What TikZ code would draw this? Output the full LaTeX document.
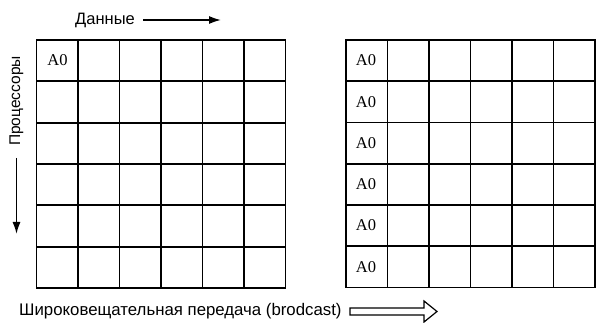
\documentclass[tikz,border=0pt]{standalone}
\usepackage{fontspec}
\setmainfont{Liberation Sans}
\newfontfamily\serifA{Liberation Serif}
\usetikzlibrary{arrows.meta}
\begin{document}
\begin{tikzpicture}[x=1pt,y=-1pt,
  gridline/.style={line width=1.8pt,line cap=rect},
  lbl/.style={font=\fontsize{16.5}{18}\selectfont,inner sep=0pt},
  blbl/.style={font=\fontsize{16.8}{18}\selectfont,inner sep=0pt},
  vlbl/.style={font=\fontsize{15.5}{17}\selectfont,inner sep=0pt},
  cellA/.style={font=\serifA\fontsize{16.5}{17}\selectfont,inner sep=0pt},
  thinarrow/.style={line width=1.6pt,-{Latex[length=12pt,width=8pt]}}]
\useasboundingbox (0,0) rectangle (598,323);
% left grid
\draw[gridline] (36.5,40) rectangle (285.5,288);
\foreach \i in {1,...,5}{
  \draw[gridline] ({36.5+41.5*\i},40) -- ({36.5+41.5*\i},288);
  \draw[gridline] (36.5,{40+41.33*\i}) -- (285.5,{40+41.33*\i});
}
% right grid
\draw[gridline] (346,40) rectangle (595,287.5);
\foreach \i in {1,...,5}{
  \draw[gridline] ({346+41.5*\i},40) -- ({346+41.5*\i},287.5);
  \draw[gridline] (346,{40+41.25*\i}) -- (595,{40+41.25*\i});
}
% labels
\node[cellA] (l0) at (57.5,60.5) {A0};
\foreach \j in {0,...,5}{
  \node[cellA] (r\j) at (366,{60.5+41.25*\j}) {A0};
}
\node[lbl,anchor=west] (data) at (75,20) {Данные};
\coordinate (d1) at (143,20);
\coordinate (d2) at (221,20);
\draw[thinarrow] (d1) -- (d2);
\node[vlbl,rotate=90] (proc) at (16.5,101) {Процессоры};
\coordinate (p1) at (16.5,158);
\coordinate (p2) at (16.5,234);
\draw[thinarrow] (p1) -- (p2);
\node[blbl,anchor=west] (bc) at (19,311) {Широковещательная передача (brodcast)};
% hollow arrow
\draw[line width=1.2pt,line join=miter] (350,308) -- (424,308) -- (424,301) -- (437,311.5) -- (424,322) -- (424,315) -- (350,315) -- cycle;
\end{tikzpicture}
\end{document}
